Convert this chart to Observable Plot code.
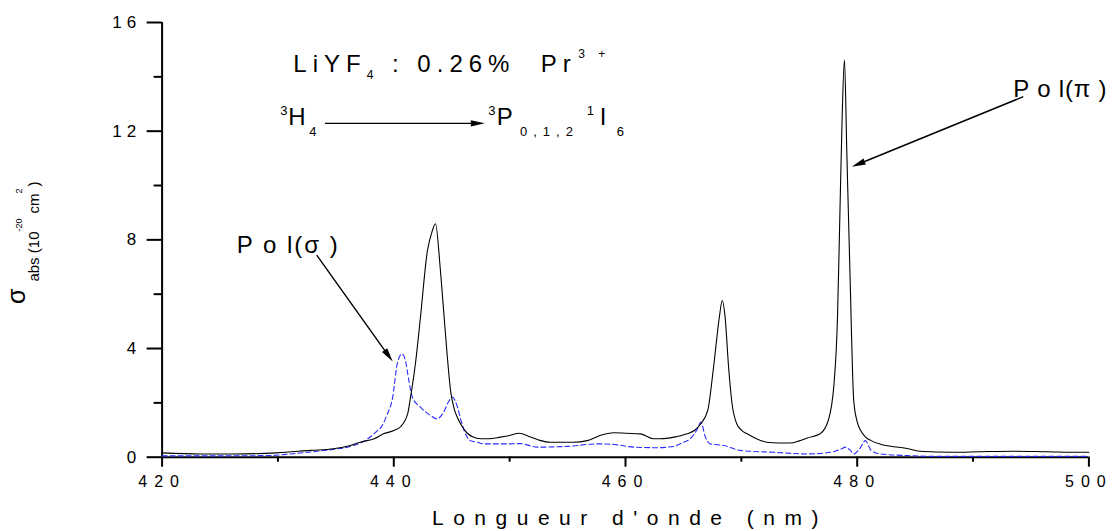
<!DOCTYPE html>
<html>
<head>
<meta charset="utf-8">
<script src="https://cdn.jsdelivr.net/npm/d3@7"></script>
<script src="https://cdn.jsdelivr.net/npm/@observablehq/plot@0.6"></script>
<style>
  html, body { margin: 0; padding: 0; background: #fff; }
  #chart svg { display: block; font-family: "Liberation Sans", Arial, sans-serif; }
  g[aria-label="x-axis tick label"] text { letter-spacing: 7px; }
  g[aria-label="y-axis tick label"] text { letter-spacing: 5px; }
</style>
</head>
<body>
<div id="chart"></div>
<script>
// ---- data ----
const wlPi = [420.0, 423.3, 426.2, 429.9, 432.8, 434.8, 436.0, 437.1, 437.7, 438.3, 439.1, 440.0, 440.6, 441.2, 441.4, 441.9, 442.3, 442.9, 443.3, 443.6, 444.0, 444.3, 444.6, 444.9, 445.2, 445.5, 445.8, 446.3, 446.8, 447.5, 448.2, 449.2, 450.0, 450.8, 451.8, 452.6, 453.5, 455.5, 456.7, 457.8, 459.0, 460.1, 461.3, 462.4, 463.0, 464.2, 465.3, 466.0, 466.5, 467.1, 467.6, 468.1, 468.35, 468.6, 468.9, 469.2, 469.6, 470.0, 470.5, 471.3, 472.2, 473.2, 474.2, 475.0, 475.7, 476.8, 477.5, 478.0, 478.3, 478.5, 478.7, 478.9, 479.1, 479.4, 479.7, 480.0, 480.3, 480.7, 481.2, 482.0, 482.9, 484.2, 485.4, 488.2, 490.6, 493.5, 496.4, 499.3, 500.0];
const absPi = [0.16, 0.12, 0.12, 0.16, 0.25, 0.31, 0.40, 0.55, 0.61, 0.68, 0.86, 0.98, 1.13, 1.6, 2.09, 3.56, 5.15, 7.6, 8.3, 8.59, 7.0, 5.4, 3.8, 2.45, 1.8, 1.45, 1.2, 0.9, 0.75, 0.68, 0.68, 0.74, 0.8, 0.88, 0.74, 0.62, 0.55, 0.55, 0.61, 0.8, 0.9, 0.88, 0.86, 0.68, 0.68, 0.74, 0.86, 1.0, 1.23, 1.72, 3.31, 5.15, 5.77, 5.15, 3.31, 1.96, 1.23, 1.0, 0.86, 0.68, 0.55, 0.52, 0.52, 0.6, 0.71, 0.86, 1.35, 2.7, 5.15, 8.83, 12.5, 14.63, 11.3, 6.38, 2.09, 1.3, 0.98, 0.75, 0.61, 0.48, 0.40, 0.33, 0.22, 0.18, 0.2, 0.22, 0.2, 0.18, 0.18];

const wlSigma = [420.0, 424.8, 429.1, 431.1, 433.4, 435.0, 436.3, 437.7, 438.6, 438.9, 439.4, 439.9, 440.3, 440.7, 441.0, 441.3, 441.6, 442.3, 443.2, 443.7, 444.3, 444.7, 445.05, 445.5, 445.8, 446.1, 446.6, 447.2, 447.8, 449.8, 450.9, 452.4, 455.0, 457.6, 459.0, 460.7, 462.7, 464.2, 465.0, 465.6, 466.2, 466.5, 466.9, 467.3, 468.5, 469.9, 472.8, 475.7, 477.7, 478.6, 479.0, 479.4, 479.7, 480.2, 480.7, 481.2, 482.0, 484.3, 487.2, 500.0];
const absSigma = [0.05, 0.05, 0.06, 0.12, 0.22, 0.3, 0.40, 0.66, 0.98, 1.1, 1.55, 2.2, 3.44, 3.8, 3.56, 2.82, 2.21, 1.84, 1.53, 1.41, 1.66, 2.02, 2.21, 1.84, 1.35, 0.95, 0.61, 0.55, 0.49, 0.49, 0.5, 0.37, 0.4, 0.49, 0.47, 0.37, 0.35, 0.4, 0.55, 0.68, 1.04, 1.29, 0.74, 0.49, 0.43, 0.25, 0.18, 0.12, 0.18, 0.3, 0.37, 0.25, 0.12, 0.3, 0.61, 0.25, 0.12, 0.06, 0.03, 0.03];

const xTicks = [420, 440, 460, 480, 500];
const xMinorTicks = [430, 450, 470, 490];
const yTicks = [0, 4, 8, 12, 16];
const yMinorTicks = [2, 6, 10, 14];

const xLabel = "Longueur d'onde (nm)";

// ---- build tables ----
const piData = wlPi.map((w, i) => ({wl: w, v: absPi[i]}));
const sigmaData = wlSigma.map((w, i) => ({wl: w, v: absSigma[i]}));

const chart = Plot.plot({
  width: 1114,
  height: 531,
  marginLeft: 161.6,
  marginRight: 25.6,
  marginTop: 22,
  marginBottom: 74.3,
  x: {domain: [420, 500]},
  y: {domain: [0, 16]},
  style: {fontFamily: "'Liberation Sans', Arial, sans-serif", color: "#000", background: "#fff"},
  marks: [
    Plot.axisX(xTicks, {tickSize: 10, tickPadding: 8, strokeWidth: 2, fontSize: 16, label: null, tickFormat: d => String(d)}),
    Plot.axisX(xMinorTicks, {tickSize: 5, strokeWidth: 2, label: null, tickFormat: () => ""}),
    Plot.axisY(yTicks, {tickSize: 15, tickPadding: 6, strokeWidth: 2, fontSize: 17, label: null, tickFormat: d => String(d)}),
    Plot.axisY(yMinorTicks, {tickSize: 8, strokeWidth: 2, label: null, tickFormat: () => ""}),
    Plot.ruleY([0], {strokeWidth: 2}),
    Plot.ruleX([420], {strokeWidth: 2}),
    Plot.line(sigmaData, {x: "wl", y: "v", stroke: "#2b2bff", strokeWidth: 1.1, strokeDasharray: "5,3", curve: "monotone-x"}),
    Plot.line(piData, {x: "wl", y: "v", stroke: "#000", strokeWidth: 1.1, curve: "monotone-x"})
  ]
});

document.getElementById("chart").appendChild(chart);

// ---- annotations placed through the plot's scales ----
const sx = chart.scale("x"), sy = chart.scale("y");
const X = v => sx.apply(v), Y = v => sy.apply(v);
const svg = d3.select(chart);
const ann = svg.append("g")
  .attr("font-family", "'Liberation Sans', Arial, sans-serif")
  .attr("text-anchor", "start")
  .attr("fill", "#000");

function arrow(x1, y1, x2, y2) {
  const px1 = X(x1), py1 = Y(y1), px2 = X(x2), py2 = Y(y2);
  const dx = px2 - px1, dy = py2 - py1, len = Math.hypot(dx, dy);
  const ux = dx / len, uy = dy / len, L = 14, W = 3.2;
  const bx = px2 - ux * L, by = py2 - uy * L;
  ann.append("line").attr("x1", px1).attr("y1", py1).attr("x2", bx + ux * 2).attr("y2", by + uy * 2)
    .attr("stroke", "#000").attr("stroke-width", 1.4);
  ann.append("polygon")
    .attr("points", [[px2, py2], [bx - uy * W, by + ux * W], [bx + uy * W, by - ux * W]].map(p => p.join(",")).join(" "))
    .attr("fill", "#000");
}
function txt(x, y, s, size, ls) {
  return ann.append("text").attr("x", x).attr("y", y).attr("font-size", size)
    .attr("letter-spacing", (ls || 0) + "px").text(s);
}

// title line 1: LiYF4 : 0.26% Pr3+
{
  const x0 = X(431.37), y1 = Y(14.17);
  const t = ann.append("text").attr("x", x0).attr("y", y1).attr("font-size", 24).attr("letter-spacing", "6px");
  t.append("tspan").text("LiYF");
  t.append("tspan").attr("font-size", 12).attr("dy", 7).text("4");
  t.append("tspan").attr("dy", -7).text(" : 0.26%  Pr");
  txt(x0 + 285, y1 - 13.4, "3", 12);
  txt(x0 + 305, y1 - 13.4, "+", 12);
}
// line 2: 3H4 ----> 3P0,1,2 1I6
{
  const x0 = X(431.37), y2 = Y(12.21);
  txt(x0 - 13, y2 - 10, "3", 13);
  txt(x0 - 5, y2, "H", 24);
  txt(x0 + 16, y2 + 11, "4", 13);
  const x1 = X(448.2);
  txt(x1, y2 - 10, "3", 13);
  txt(x1 + 8.4, y2, "P", 24);
  txt(x1 + 31.7, y2 + 11, "0,1,2", 13, 6);
  txt(x1 + 98.4, y2 - 10, "1", 13);
  txt(x1 + 111.5, y2, "I", 24);
  txt(x1 + 128.4, y2 + 11, "6", 13);
}
arrow(434.1, 12.27, 447.9, 12.27);

// Pol(sigma)
txt(X(426.48), Y(7.49), "P o l(σ )", 24, 2);
arrow(433.39, 7.42, 439.95, 3.5);
// Pol(pi)
txt(X(493.52), Y(13.25), "P o l(π )", 24, 0.8);
arrow(494.38, 13.25, 479.57, 10.67);

// x-axis title
ann.append("text").attr("x", (X(420) + X(500)) / 2 + 5).attr("y", 525).attr("text-anchor", "middle")
  .attr("font-size", 21).attr("letter-spacing", "9.5px").text(xLabel);

// y-axis title: σ_abs (10^-20 cm^2)
{
  const t = ann.append("text").attr("transform", "translate(25,304) rotate(-90)").attr("font-size", 25);
  t.append("tspan").text("σ");
  t.append("tspan").attr("font-size", 15).attr("dx", 7).attr("dy", 14).text("abs (10");
  t.append("tspan").attr("font-size", 9).attr("dy", -17).text("-20");
  t.append("tspan").attr("font-size", 15).attr("dx", 5).attr("dy", 17).text("cm");
  t.append("tspan").attr("font-size", 9).attr("dy", -17).text("2");
  t.append("tspan").attr("font-size", 15).attr("dx", 2).attr("dy", 17).text(")");
}
</script>
</body>
</html>
